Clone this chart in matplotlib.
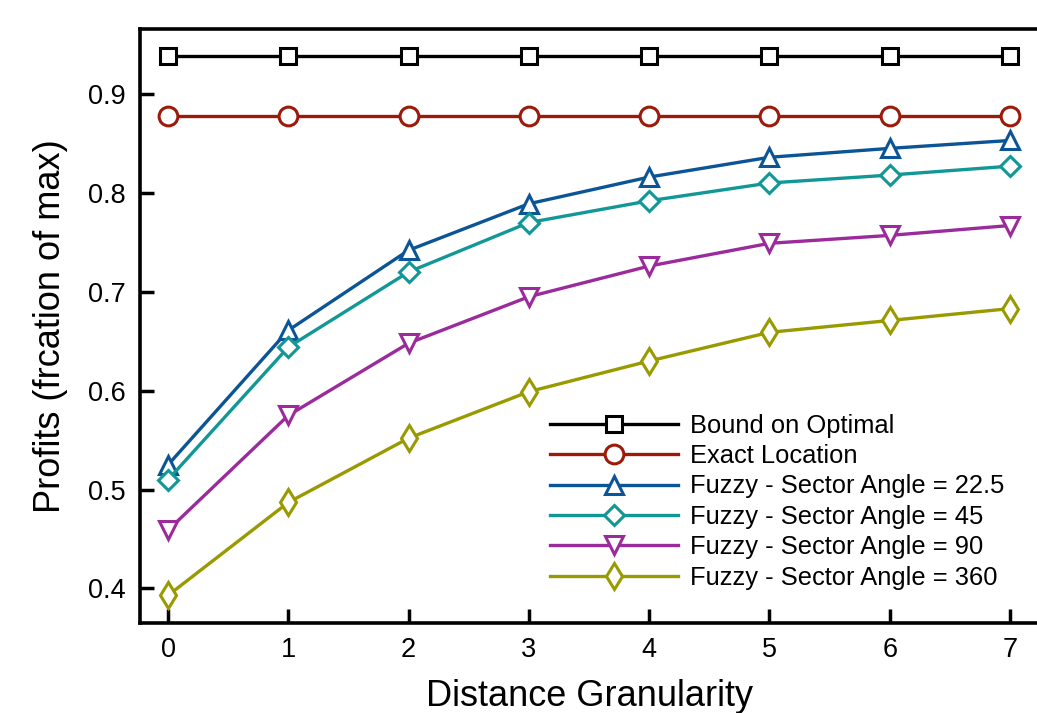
import matplotlib
matplotlib.use("Agg")
import matplotlib.pyplot as plt

plt.rcParams['font.family'] = ['Liberation Sans', 'DejaVu Sans']

granularity = [0, 1, 2, 3, 4, 5, 6, 7]
bound_optimal = [0.938] * 8
exact_location = [0.878] * 8
fuzzy_22_5 = [0.525, 0.661, 0.742, 0.789, 0.816, 0.836, 0.845, 0.853]
fuzzy_45 = [0.510, 0.644, 0.720, 0.770, 0.792, 0.810, 0.818, 0.827]
fuzzy_90 = [0.459, 0.575, 0.648, 0.695, 0.726, 0.749, 0.757, 0.767]
fuzzy_360 = [0.393, 0.487, 0.552, 0.599, 0.630, 0.659, 0.671, 0.683]

labels = ["Bound on Optimal", "Exact Location", "Fuzzy - Sector Angle = 22.5",
          "Fuzzy - Sector Angle = 45", "Fuzzy - Sector Angle = 90",
          "Fuzzy - Sector Angle = 360"]
series = [bound_optimal, exact_location, fuzzy_22_5, fuzzy_45, fuzzy_90, fuzzy_360]
colors = ["#000000", "#9b1a0a", "#0b5495", "#129797", "#9b2a9b", "#999900"]
markers = ["s", "o", "^", "D", "v", "d"]
msizes = [11, 13.5, 13.5, 10, 13.5, 13.5]

fig = plt.figure(figsize=(10.37, 7.13), dpi=100)
ax = fig.add_axes([140/1037, (713-622.7)/713, 900/1037, (622.7-29)/713])

for y, lab, c, m, ms in zip(series, labels, colors, markers, msizes):
    ax.plot(granularity, y, color=c, lw=2.4, marker=m, ms=ms, mfc='white',
            mec=c, mew=2.2, label=lab)

ax.set_xlim(-0.233, 7.249)
ax.set_ylim(0.3654, 0.9657)
ax.set_xticks(granularity)
ax.set_yticks([0.4, 0.5, 0.6, 0.7, 0.8, 0.9])
ax.set_yticklabels(["0.4", "0.5", "0.6", "0.7", "0.8", "0.9"])
ax.tick_params(direction='in', length=10, width=2.5, labelsize=19.5, pad=10)
for s in ['left', 'bottom', 'top']:
    ax.spines[s].set_linewidth(2.6)
ax.spines['right'].set_visible(False)

ax.set_xlabel("Distance Granularity", fontsize=26, labelpad=12)
ax.set_ylabel("Profits (frcation of max)", fontsize=26, labelpad=15)

ax.legend(loc='upper left', bbox_to_anchor=(0.4556, 0.352), frameon=False,
          fontsize=18.4, handlelength=5, handletextpad=0.48, labelspacing=0.25,
          borderpad=0, borderaxespad=0)

fig.savefig("out.png", dpi=100)
